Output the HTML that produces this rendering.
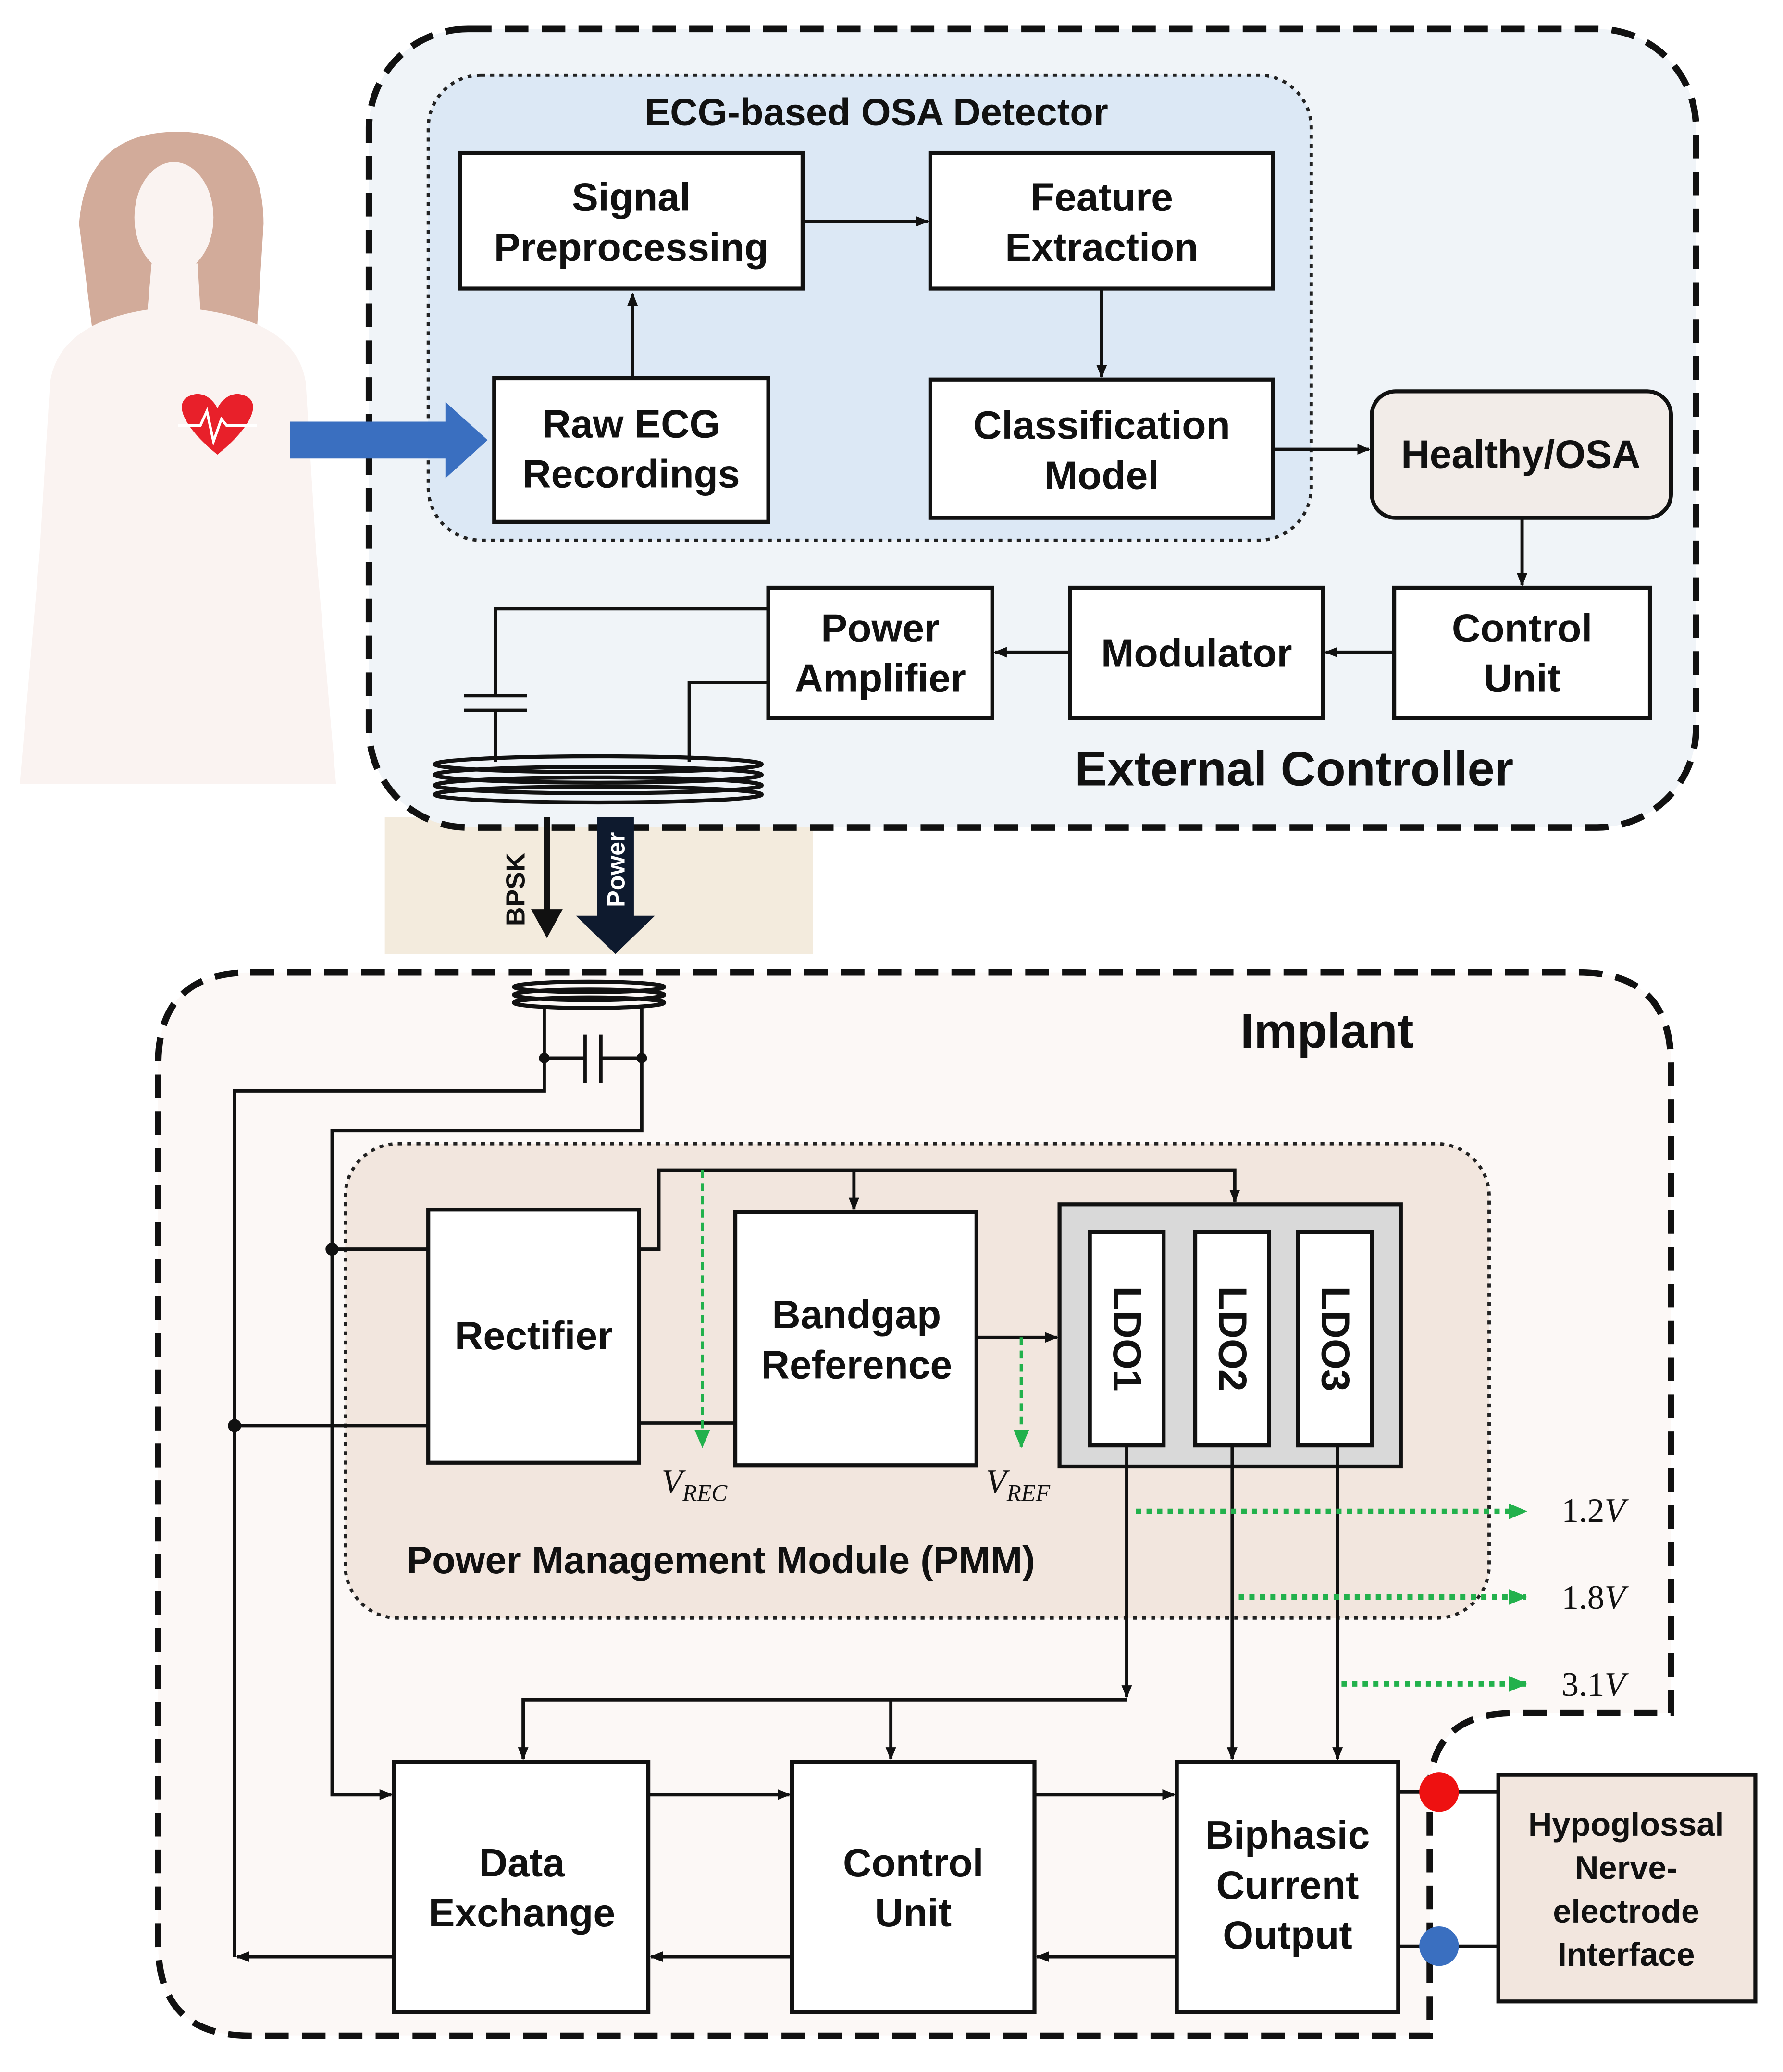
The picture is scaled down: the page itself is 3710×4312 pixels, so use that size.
<!DOCTYPE html>
<html><head><meta charset="utf-8"><style>
html,body{margin:0;padding:0;background:#fff}
svg{display:block}
text{font-family:"Liberation Sans",Arial,sans-serif;font-weight:bold;fill:#111}
</style></head><body>
<svg width="3710" height="4312" viewBox="0 0 1353 1572.5" preserveAspectRatio="none" xmlns="http://www.w3.org/2000/svg">
<defs>
<marker id="a" markerWidth="10" markerHeight="10" refX="9" refY="5" orient="auto" markerUnits="userSpaceOnUse"><path d="M0,1 L10,5 L0,9 Z" fill="#111"/></marker>
<marker id="g" markerWidth="14" markerHeight="14" refX="13" refY="7" orient="auto" markerUnits="userSpaceOnUse"><path d="M0,1 L14,7 L0,13 Z" fill="#22b14c"/></marker>
</defs>
<!-- human figure -->
<path d="M60,170 Q65,100 135,100 Q200,100 200,170 L195,250 L70,250 Z" fill="#d2ab9a"/>
<g fill="#faf3f1">
<ellipse cx="132" cy="165" rx="30" ry="42"/>
<path d="M115,200 L150,200 L152,235 Q225,245 232,290 L240,420 L255,595 L15,595 L30,420 L38,290 Q45,245 112,235 Z"/>
</g>
<path d="M165,345 C140,325 130,305 145,300 C155,296 163,305 165,310 C167,305 175,296 185,300 C200,305 190,325 165,345 Z" fill="#e8202a"/>
<path d="M135,323 L152,323 L157,312 L162,335 L168,318 L172,323 L195,323" stroke="#fff" stroke-width="2" fill="none"/>
<!-- tan region -->
<rect x="292" y="620" width="325" height="104" fill="#f3ebdd"/>
<!-- external controller -->
<rect x="280" y="22" width="1007" height="606" rx="75" fill="#f0f4f8" stroke="#111" stroke-width="5" stroke-dasharray="18,10"/>
<rect x="325" y="57" width="670" height="353" rx="40" fill="#dce8f5" stroke="#222" stroke-width="2.5" stroke-dasharray="3,4"/>
<text x="665" y="95" font-size="29" text-anchor="middle">ECG-based OSA Detector</text>
<path d="M220,320 L338,320 L338,305 L370,334 L338,363 L338,348 L220,348 Z" fill="#3a6fc0"/>
<g fill="#fff" stroke="#111" stroke-width="3">
<rect x="349" y="116" width="260" height="103"/>
<rect x="706" y="116" width="260" height="103"/>
<rect x="375" y="287" width="208" height="109"/>
<rect x="706" y="288" width="260" height="105"/>
<rect x="1041" y="297" width="227" height="96" rx="18" fill="#f2ece8"/>
<rect x="1058" y="446" width="194" height="99"/>
<rect x="812" y="446" width="192" height="99"/>
<rect x="583" y="446" width="170" height="99"/>
</g>
<g font-size="30" text-anchor="middle">
<text x="479" y="160">Signal</text><text x="479" y="198">Preprocessing</text>
<text x="836" y="160">Feature</text><text x="836" y="198">Extraction</text>
<text x="479" y="332">Raw ECG</text><text x="479" y="370">Recordings</text>
<text x="836" y="333">Classification</text><text x="836" y="371">Model</text>
<text x="1154" y="355">Healthy/OSA</text>
<text x="1155" y="487">Control</text><text x="1155" y="525">Unit</text>
<text x="908" y="506">Modulator</text>
<text x="668" y="487">Power</text><text x="668" y="525">Amplifier</text>
</g>
<text x="982" y="596" font-size="37" text-anchor="middle">External Controller</text>
<g stroke="#111" stroke-width="2.5" fill="none">
<line x1="609" y1="168" x2="704" y2="168" marker-end="url(#a)"/>
<line x1="836" y1="219" x2="836" y2="286" marker-end="url(#a)"/>
<line x1="480" y1="287" x2="480" y2="223" marker-end="url(#a)"/>
<line x1="966" y1="341" x2="1039" y2="341" marker-end="url(#a)"/>
<line x1="1155" y1="393" x2="1155" y2="444" marker-end="url(#a)"/>
<line x1="1058" y1="495" x2="1006" y2="495" marker-end="url(#a)"/>
<line x1="812" y1="495" x2="755" y2="495" marker-end="url(#a)"/>
<polyline points="583,462 376,462 376,528"/>
<line x1="352" y1="528" x2="400" y2="528"/><line x1="352" y1="539" x2="400" y2="539"/>
<line x1="376" y1="539" x2="376" y2="578"/>
<polyline points="583,518 523,518 523,578"/>
</g>
<g fill="none" stroke="#111" stroke-width="3">
<ellipse cx="454" cy="580" rx="124" ry="6"/><ellipse cx="454" cy="588" rx="124" ry="6"/>
<ellipse cx="454" cy="596" rx="124" ry="6"/><ellipse cx="454" cy="603" rx="124" ry="6"/>
</g>
<line x1="415" y1="620" x2="415" y2="695" stroke="#111" stroke-width="5"/>
<path d="M403,690 L427,690 L415,712 Z" fill="#111"/>
<text transform="translate(398,675) rotate(-90)" font-size="20" text-anchor="middle" font-weight="normal">BPSK</text>
<path d="M453,620 L481,620 L481,695 L497,695 L467,724 L437,695 L453,695 Z" fill="#0e1a2e"/>
<text transform="translate(474,660) rotate(-90)" font-size="19" text-anchor="middle" style="fill:#fff">Power</text>
<!-- implant -->
<path d="M190,738 L1198,738 Q1268,738 1268,808 L1268,1300 L1150,1300 Q1085,1300 1085,1360 L1085,1545 L190,1545 Q120,1545 120,1475 L120,808 Q120,738 190,738 Z" fill="#fcf8f6" stroke="#111" stroke-width="5" stroke-dasharray="18,10"/>
<text x="1007" y="795" font-size="37" text-anchor="middle">Implant</text>
<g fill="none" stroke="#111" stroke-width="3">
<ellipse cx="447" cy="749" rx="57" ry="4"/><ellipse cx="447" cy="755" rx="57" ry="4"/><ellipse cx="447" cy="761" rx="57" ry="4"/>
</g>
<g stroke="#111" stroke-width="2.5" fill="none">
<line x1="413" y1="764" x2="413" y2="803"/><line x1="487" y1="764" x2="487" y2="803"/>
<line x1="413" y1="803" x2="444" y2="803"/><line x1="456" y1="803" x2="487" y2="803"/>
<line x1="444" y1="785" x2="444" y2="822"/><line x1="456" y1="785" x2="456" y2="822"/>
<polyline points="413,803 413,828 178,828 178,1485"/>
<polyline points="487,803 487,858 252,858 252,1362 297,1362" marker-end="url(#a)"/>
</g>
<circle cx="413" cy="803" r="4" fill="#111"/><circle cx="487" cy="803" r="4" fill="#111"/>
<rect x="262" y="868" width="868" height="360" rx="40" fill="#f2e6de" stroke="#222" stroke-width="2.5" stroke-dasharray="3,4"/>
<text x="547" y="1194" font-size="29" text-anchor="middle">Power Management Module (PMM)</text>
<g stroke="#111" stroke-width="3">
<rect x="325" y="918" width="160" height="192" fill="#fff"/>
<rect x="558" y="920" width="183" height="192" fill="#fff"/>
<rect x="804" y="914" width="259" height="199" fill="#d9d9d9"/>
<rect x="827" y="935" width="56" height="162" fill="#fff"/>
<rect x="907" y="935" width="56" height="162" fill="#fff"/>
<rect x="985" y="935" width="56" height="162" fill="#fff"/>
</g>
<g font-size="30" text-anchor="middle">
<text x="405" y="1024">Rectifier</text>
<text x="650" y="1008">Bandgap</text><text x="650" y="1046">Reference</text>
<text transform="translate(845,1016) rotate(90)">LDO1</text>
<text transform="translate(925,1016) rotate(90)">LDO2</text>
<text transform="translate(1003,1016) rotate(90)">LDO3</text>
</g>
<g stroke="#111" stroke-width="2.5" fill="none">
<line x1="252" y1="948" x2="325" y2="948"/>
<line x1="178" y1="1082" x2="325" y2="1082"/>
<polyline points="485,948 500,948 500,888 937,888 937,912" marker-end="url(#a)"/>
<line x1="648" y1="888" x2="648" y2="918" marker-end="url(#a)"/>
<line x1="485" y1="1080" x2="558" y2="1080"/>
<line x1="741" y1="1015" x2="802" y2="1015" marker-end="url(#a)"/>
<polyline points="855,1097 855,1288" marker-end="url(#a)"/>
<line x1="935" y1="1097" x2="935" y2="1335" marker-end="url(#a)"/>
<line x1="1015" y1="1097" x2="1015" y2="1335" marker-end="url(#a)"/>
<polyline points="855,1290 397,1290 397,1335" marker-end="url(#a)"/>
<line x1="676" y1="1290" x2="676" y2="1335" marker-end="url(#a)"/>
<line x1="492" y1="1362" x2="599" y2="1362" marker-end="url(#a)"/>
<line x1="785" y1="1362" x2="891" y2="1362" marker-end="url(#a)"/>
<line x1="893" y1="1485" x2="787" y2="1485" marker-end="url(#a)"/>
<line x1="601" y1="1485" x2="494" y2="1485" marker-end="url(#a)"/>
<line x1="299" y1="1485" x2="180" y2="1485" marker-end="url(#a)"/>
<line x1="1061" y1="1360" x2="1137" y2="1360"/>
<line x1="1061" y1="1477" x2="1137" y2="1477"/>
</g>
<circle cx="252" cy="948" r="5" fill="#111"/><circle cx="178" cy="1082" r="5" fill="#111"/>
<g stroke="#22b14c" stroke-width="2.5" fill="none" stroke-dasharray="6,4">
<line x1="533" y1="888" x2="533" y2="1098" marker-end="url(#g)"/>
<line x1="775" y1="1015" x2="775" y2="1098" marker-end="url(#g)"/>
</g>
<g stroke="#22b14c" stroke-width="4" fill="none" stroke-dasharray="4,4">
<line x1="862" y1="1147" x2="1158" y2="1147" marker-end="url(#g)"/>
<line x1="940" y1="1212" x2="1158" y2="1212" marker-end="url(#g)"/>
<line x1="1018" y1="1278" x2="1158" y2="1278" marker-end="url(#g)"/>
</g>
<g font-size="26">
<text x="502" y="1133" style="font-family:'Liberation Serif',serif;font-weight:normal;font-style:italic">V<tspan font-size="18" dy="6">REC</tspan></text>
<text x="748" y="1133" style="font-family:'Liberation Serif',serif;font-weight:normal;font-style:italic">V<tspan font-size="18" dy="6">REF</tspan></text>
<text x="1185" y="1155" style="font-family:'Liberation Serif',serif;font-weight:normal">1.2<tspan font-style="italic">V</tspan></text>
<text x="1185" y="1221" style="font-family:'Liberation Serif',serif;font-weight:normal">1.8<tspan font-style="italic">V</tspan></text>
<text x="1185" y="1287" style="font-family:'Liberation Serif',serif;font-weight:normal">3.1<tspan font-style="italic">V</tspan></text>
</g>
<g fill="#fff" stroke="#111" stroke-width="3">
<rect x="299" y="1337" width="193" height="190"/>
<rect x="601" y="1337" width="184" height="190"/>
<rect x="893" y="1337" width="168" height="190"/>
<rect x="1137" y="1347" width="195" height="172" fill="#f2e6de"/>
</g>
<g font-size="30" text-anchor="middle">
<text x="396" y="1424">Data</text><text x="396" y="1462">Exchange</text>
<text x="693" y="1424">Control</text><text x="693" y="1462">Unit</text>
<text x="977" y="1403">Biphasic</text><text x="977" y="1441">Current</text><text x="977" y="1479">Output</text>
</g>
<g font-size="25" text-anchor="middle">
<text x="1234" y="1393">Hypoglossal</text><text x="1234" y="1426">Nerve-</text><text x="1234" y="1459">electrode</text><text x="1234" y="1492">Interface</text>
</g>
<circle cx="1092" cy="1360" r="15" fill="#ee1111"/>
<circle cx="1092" cy="1477" r="15" fill="#3a6fc0"/>
</svg>
</body></html>
